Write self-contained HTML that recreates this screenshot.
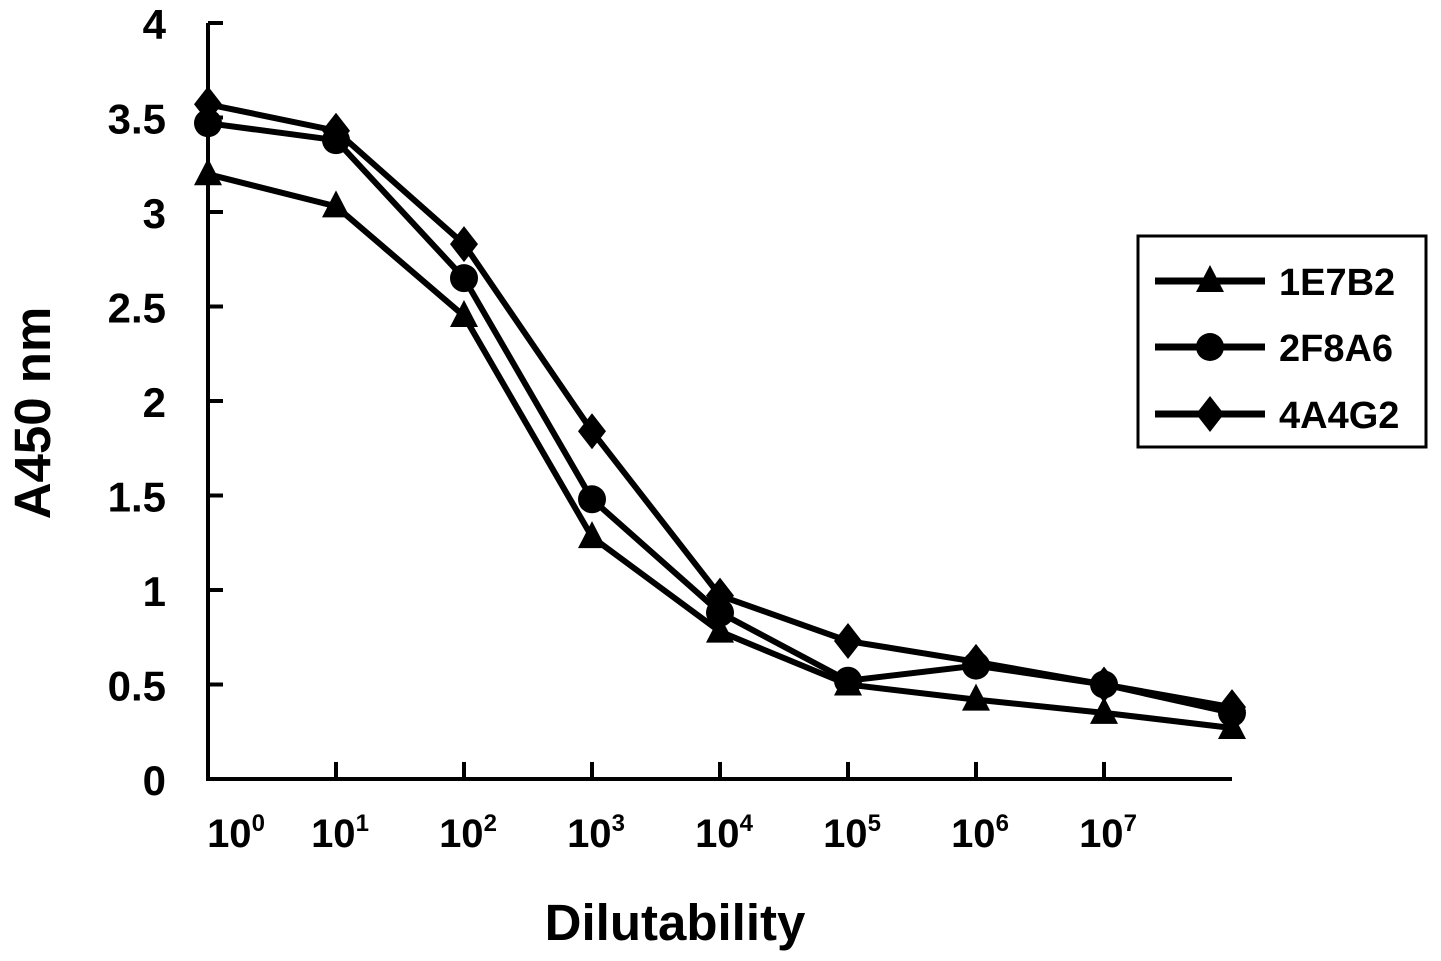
<!DOCTYPE html>
<html><head><meta charset="utf-8"><style>
html,body{margin:0;padding:0;background:#fff;}
svg{display:block;font-family:"Liberation Sans",Arial,sans-serif;font-weight:bold;}
</style></head><body>
<svg width="1441" height="961" viewBox="0 0 1441 961">
<g id="axes"></g><g id="series"></g><g id="legend"></g>
</svg>
<script>
const categories=["0","1","2","3","4","5","6","7","8"];
const xTickExps=["0","1","2","3","4","5","6","7"];
const yTicks=[0,0.5,1,1.5,2,2.5,3,3.5,4];
const yTickLabels=["0","0.5","1","1.5","2","2.5","3","3.5","4"];
const seriesNames=["1E7B2","2F8A6","4A4G2"];
const s1E7B2=[3.2,3.03,2.45,1.28,0.78,0.5,0.42,0.35,0.27];
const s2F8A6=[3.47,3.38,2.65,1.48,0.88,0.52,0.6,0.5,0.35];
const s4A4G2=[3.57,3.43,2.83,1.84,0.97,0.73,0.62,0.5,0.38];
const NS="http://www.w3.org/2000/svg";
function mk(t,a,p){const e=document.createElementNS(NS,t);for(const k in a)e.setAttribute(k,a[k]);p.appendChild(e);return e;}
const X=i=>208+128*i, Y=v=>779-189*v;
const ax=document.getElementById('axes');
let yl=mk('line',{x1:208,y1:Y(4),x2:208,y2:781,stroke:'#000','stroke-width':4},ax);


let xl=mk('line',{x1:206,y1:779,x2:X(8),y2:779,stroke:'#000','stroke-width':4},ax);


yTicks.forEach((v,i)=>{
 mk('line',{x1:208,y1:Y(v),x2:223,y2:Y(v),stroke:'#000','stroke-width':4},ax);
 const t=mk('text',{x:166,y:Y(v)+16,'text-anchor':'end','font-size':42},ax);t.textContent=yTickLabels[i];
 
 
});
xTickExps.forEach((e,i)=>{
 if(i>0)mk('line',{x1:X(i),y1:779,x2:X(i),y2:762,stroke:'#000','stroke-width':4},ax);
 const t=mk('text',{x:X(i)+(i===0?28:4),y:847,'text-anchor':'middle','font-size':40},ax);
 
 
 const a=mk('tspan',{},t);a.textContent="10";
 const b=mk('tspan',{dy:-16,'font-size':24},t);b.textContent=e;
});
let xt=mk('text',{x:675,y:940,'text-anchor':'middle','font-size':51},ax);xt.textContent="Dilutability";


let yt=mk('text',{x:0,y:0,'text-anchor':'middle','font-size':51,transform:'translate(50,413) rotate(-90)'},ax);yt.textContent="A450 nm";


function marker(type,x,y,p){
 if(type===0)return mk('polygon',{points:`${x},${y-16} ${x-14},${y+11} ${x+14},${y+11}`,fill:'#000'},p);
 if(type===1)return mk('circle',{cx:x,cy:y,r:14,fill:'#000'},p);
 return mk('polygon',{points:`${x},${y-18} ${x+14},${y} ${x},${y+18} ${x-14},${y}`,fill:'#000'},p);
}
const sg=document.getElementById('series');
[s1E7B2,s2F8A6,s4A4G2].forEach((arr,si)=>{
 const g=mk('g',{},sg);
 
 
 const pl=mk('polyline',{points:arr.map((v,i)=>X(i)+','+Y(v)).join(' '),fill:'none',stroke:'#000','stroke-width':6},g);
 
 
 arr.forEach((v,i)=>{const m=marker(si,X(i),Y(v),g);
  
  });
});
const lg=document.getElementById('legend');


mk('rect',{x:1138,y:236,width:288,height:211,fill:'#fff',stroke:'#000','stroke-width':3},lg);
[281,347,414].forEach((y,si)=>{
 mk('line',{x1:1155,y1:y,x2:1265,y2:y,stroke:'#000','stroke-width':7},lg);
 marker(si,1210,y,lg);
 const t=mk('text',{x:1279,y:y+14,'font-size':38},lg);t.textContent=seriesNames[si];
 
 
});
</script>
</body></html>
